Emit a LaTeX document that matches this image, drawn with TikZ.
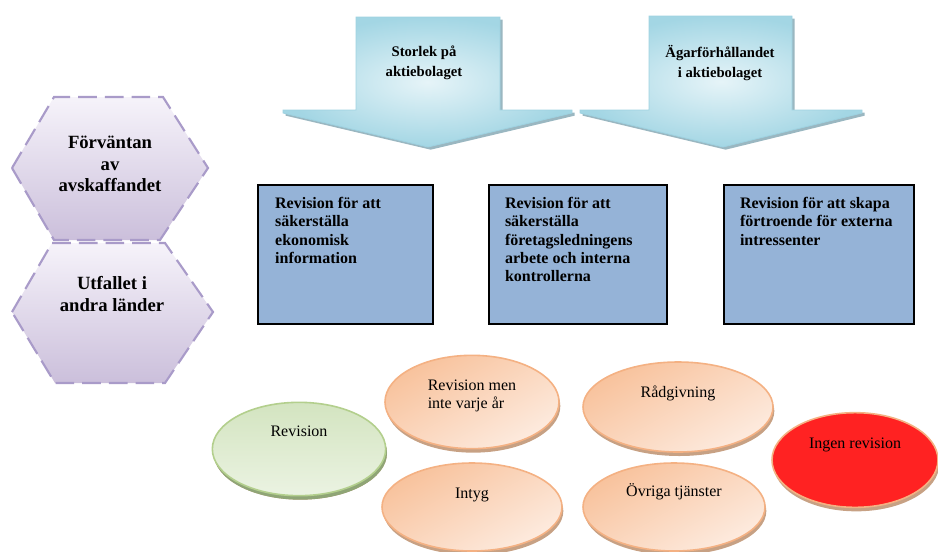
\documentclass[tikz,border=0pt]{standalone}
\usepackage{fontspec}
\setmainfont{Liberation Serif}
\usetikzlibrary{shapes.geometric, shadows}

\definecolor{hexline}{HTML}{A99BC9}
\definecolor{hextop}{HTML}{F6F3FA}
\definecolor{hexbot}{HTML}{CBBFDB}
\definecolor{arrline}{HTML}{9ED2E1}
\definecolor{arrin}{HTML}{E6F4F8}
\definecolor{arrout}{HTML}{A3D6E4}
\definecolor{arrshadow}{HTML}{8FAFBA}
\definecolor{boxblue}{HTML}{95B3D7}
\definecolor{peachline}{HTML}{F4B183}
\definecolor{peachdark}{HTML}{F8C29C}
\definecolor{peachlight}{HTML}{FDEBDF}
\definecolor{tanshadow}{HTML}{C7A184}
\definecolor{greenline}{HTML}{B3CF8D}
\definecolor{greendark}{HTML}{D3E4C0}
\definecolor{greenlight}{HTML}{EBF3E2}
\definecolor{greenshadow}{HTML}{8FA576}
\definecolor{norevision}{HTML}{FF2222}

\tikzstyle{hexa} = [draw=hexline, line width=1.6pt, dash pattern=on 14pt off 6pt,
    top color=hextop, bottom color=hexbot]
\tikzstyle{hextext} = [font=\fontsize{14}{16}\selectfont\bfseries, align=center]
\tikzstyle{bigarrow} = [draw=arrline, line width=0.6pt, inner color=arrin, outer color=arrout,
    drop shadow={shadow xshift=2pt, shadow yshift=-2pt, fill=arrshadow, opacity=0.9}]
\tikzstyle{arrowtext} = [font=\fontsize{11}{15}\selectfont\bfseries, align=center]
\tikzstyle{infobox} = [rectangle, draw=black, line width=1.3pt, fill=boxblue,
    inner sep=0pt, minimum height=104pt, font=\fontsize{12}{13.75}\selectfont\bfseries]
\tikzstyle{outcome} = [ellipse, draw=peachline, line width=1.2pt, inner sep=2pt,
    top color=peachdark, bottom color=peachlight, shading angle=30,
    font=\fontsize{12}{13.5}\selectfont,
    drop shadow={shadow xshift=1pt, shadow yshift=-3pt, fill=tanshadow, opacity=1}]

\newcommand{\boxtext}[2]{\parbox[c][86pt][t]{#1}{\raggedright #2}}

\begin{document}
\begin{tikzpicture}[x=0.75pt, y=-0.75pt]
    \path [use as bounding box] (0,0) rectangle (938,551);
    \clip (0,0) rectangle (938,551);

    % faktorer till vanster
    \draw [hexa] (12,168) -- (54,97) -- (163,97) -- (208,168) -- (160,240) -- (54,240) -- cycle;
    \draw [hexa] (12,312) -- (52,243) -- (165,243) -- (213,312) -- (165,383) -- (55,383) -- cycle;
    \node [hextext] at (110,164) (forvantan) {Förväntan\\av\\avskaffandet};
    \node [hextext] at (112,294) (utfallet) {Utfallet i\\andra länder};

    % pilar
    \path [bigarrow] (356,17) -- (500,17) -- (500,110) -- (572,110) -- (572,113)
        -- (428,147) -- (283,113) -- (283,110) -- (356,110) -- cycle;
    \path [bigarrow] (649,16) -- (792,16) -- (792,110) -- (862,110) -- (862,113)
        -- (723,147) -- (580,113) -- (580,110) -- (649,110) -- cycle;
    \node [arrowtext] at (424,63) (storlek) {Storlek på\\aktiebolaget};
    \node [arrowtext] at (720,63) (agar) {Ägarförhållandet\\i aktiebolaget};

    % syften
    \node [infobox, minimum width=131pt] at (345.5,254.5) (info1)
        {\boxtext{105.5pt}{Revision för att\\säkerställa\\ekonomisk\\information}};
    \node [infobox, minimum width=133.5pt] at (578,254.5) (info2)
        {\boxtext{109.5pt}{Revision för att\\säkerställa\\företagsledningens\\arbete och interna\\kontrollerna}};
    \node [infobox, minimum width=142.5pt] at (819,254.5) (info3)
        {\boxtext{118.5pt}{Revision för att skapa\\förtroende för externa\\intressenter}};

    % alternativ
    \node [outcome, draw=greenline, top color=greendark, bottom color=greenlight,
        drop shadow={shadow xshift=1pt, shadow yshift=-3pt, fill=greenshadow, opacity=1},
        minimum width=130pt, minimum height=70pt, text depth=27pt] at (299,449) (revision) {Revision};
    \node [outcome, minimum width=130.5pt, minimum height=70pt, text depth=12pt, align=left]
        at (472,402) (revmen) {Revision men\\inte varje år};
    \node [outcome, minimum width=135pt, minimum height=66pt, text depth=21pt] at (472,507) (intyg) {Intyg};
    \node [outcome, minimum width=142.5pt, minimum height=67.5pt, text depth=23pt] at (678,407) (radgivning) {Rådgivning};
    \node [outcome, minimum width=136.5pt, minimum height=66pt, text depth=25pt] at (674,507) (ovriga) {Övriga tjänster};
    \node [outcome, top color=norevision, bottom color=norevision, minimum width=124.5pt,
        minimum height=71pt, text depth=25.5pt] at (855,460) (ingen) {Ingen revision};
\end{tikzpicture}
\end{document}
